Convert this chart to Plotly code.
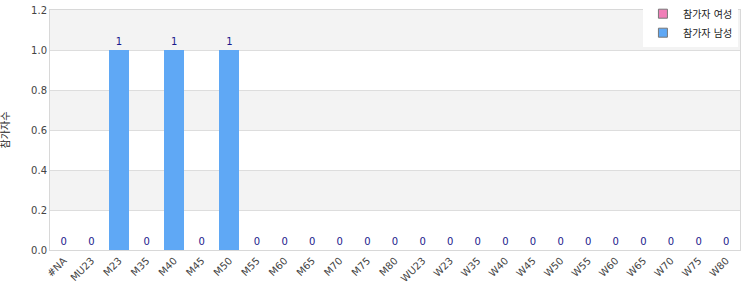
import plotly.graph_objects as go

categories = ["#NA", "MU23", "M23", "M35", "M40", "M45", "M50", "M55", "M60", "M65", "M70", "M75", "M80",
              "WU23", "W23", "W35", "W40", "W45", "W50", "W55", "W60", "W65", "W70", "W75", "W80"]
female_values = [0] * 25
male_values = [0, 0, 1, 0, 1, 0, 1, 0, 0, 0, 0, 0, 0, 0, 0, 0, 0, 0, 0, 0, 0, 0, 0, 0, 0]
series_names = ["참가자 여성", "참가자 남성"]
series_colors = ["#f07fb8", "#5fa8f5"]
y_title = "참가자수"

font = "DejaVu Sans, Noto Sans CJK KR"

fig = go.Figure()
fig.add_trace(go.Bar(x=categories, y=female_values, name=series_names[0], showlegend=False,
                     marker=dict(color=series_colors[0], line=dict(width=0))))
fig.add_trace(go.Bar(x=categories, y=male_values, name=series_names[1], showlegend=False,
                     marker=dict(color=series_colors[1], line=dict(width=0)),
                     text=[str(v) for v in male_values], textposition="outside",
                     textfont=dict(color="#1a1a8c", size=10, family=font), cliponaxis=False))
for name, color in zip(series_names, series_colors):
    fig.add_trace(go.Scatter(x=[None], y=[None], mode="markers", name=name,
                             marker=dict(symbol="square", size=9, color=color,
                                         line=dict(color="#777", width=1))))

shapes = []
for lo, hi in [(0.2, 0.4), (0.6, 0.8), (1.0, 1.2)]:
    shapes.append(dict(type="rect", xref="paper", yref="y", x0=0, x1=1, y0=lo, y1=hi,
                       fillcolor="#f3f3f3", line=dict(width=0), layer="below"))

fig.update_layout(
    width=750, height=300,
    margin=dict(l=50, r=10, t=10, b=50, autoexpand=False),
    barmode="stack", bargap=0.27,
    plot_bgcolor="white", paper_bgcolor="white",
    font=dict(family=font, size=10, color="#444"),
    shapes=shapes,
    showlegend=True,
    legend=dict(x=0.997, y=1.045, xanchor="right", yanchor="top", bgcolor="white",
                traceorder="normal", font=dict(size=10, color="#222"),
                itemwidth=30, tracegroupgap=0),
    xaxis=dict(tickangle=-45, showgrid=False, showline=True, linecolor="#d8d8d8", mirror=True,
               tickfont=dict(size=10, color="#444"), ticks=""),
    yaxis=dict(range=[0, 1.2], dtick=0.2, tickformat=".1f", showgrid=True, gridcolor="#dddddd",
               showline=True, linecolor="#d8d8d8", mirror=True, zeroline=False,
               title=dict(text=y_title, font=dict(size=10, color="#222"), standoff=20),
               tickfont=dict(size=10, color="#444")),
)
fig.write_html("out.html")
